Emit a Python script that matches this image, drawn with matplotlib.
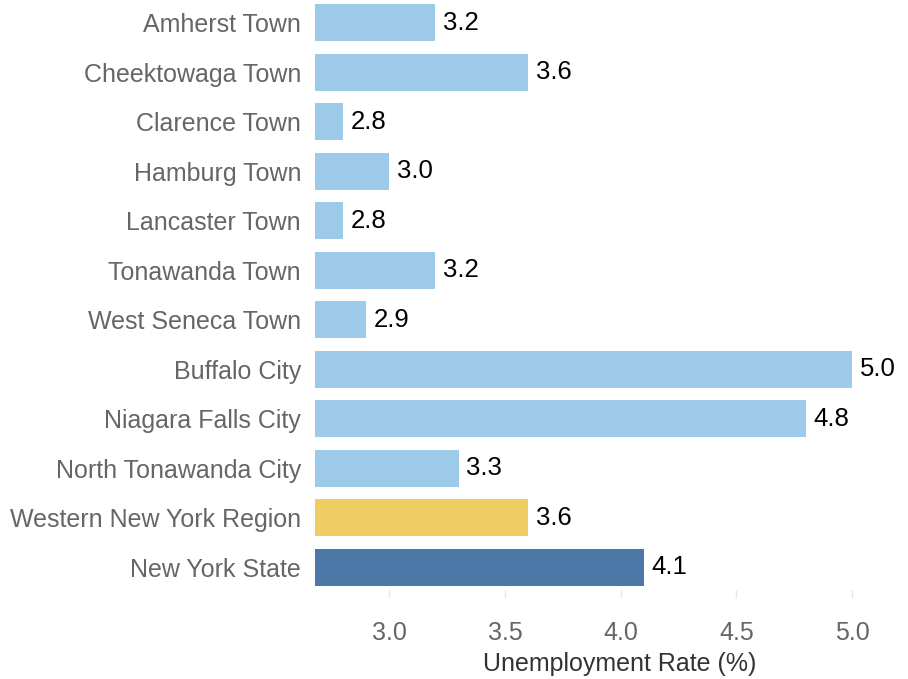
import matplotlib.pyplot as plt

plt.rcParams['font.family'] = ['Liberation Sans', 'DejaVu Sans']

places = ['Amherst Town', 'Cheektowaga Town', 'Clarence Town', 'Hamburg Town',
          'Lancaster Town', 'Tonawanda Town', 'West Seneca Town', 'Buffalo City',
          'Niagara Falls City', 'North Tonawanda City', 'Western New York Region',
          'New York State']
rates = [3.2, 3.6, 2.8, 3.0, 2.8, 3.2, 2.9, 5.0, 4.8, 3.3, 3.6, 4.1]
colors = ['#9ecae9'] * 10 + ['#f0cd63', '#4c78a8']
xticks = [3.0, 3.5, 4.0, 4.5, 5.0]

fig = plt.figure(figsize=(9.08, 6.79), dpi=100)
ax = fig.add_axes([315 / 908, 1 - 590 / 679, 565 / 908, 590 / 679])

y = list(range(len(places)))
ax.barh(y, rates, height=0.75, color=colors)
for yi, v in zip(y, rates):
    ax.text(v + 0.033, yi, f'{v:.1f}', va='center', ha='left', fontsize=18.5, color='black')

ax.set_xlim(2.68, 5.12)
ax.set_ylim(11.46, -0.46)
ax.set_yticks(y)
ax.set_yticklabels(places)
ax.set_xticks(xticks)
ax.set_xticklabels([f'{t:.1f}' for t in xticks])
ax.tick_params(axis='y', length=0, pad=10, labelsize=18, labelcolor='#666666')
ax.tick_params(axis='x', length=6, width=1, color='#e6e6e6', pad=16,
               labelsize=18, labelcolor='#666666', direction='out')
for s in ax.spines.values():
    s.set_visible(False)
ax.set_xlabel('Unemployment Rate (%)', fontsize=18, color='#333333', labelpad=5, x=0.54)

fig.savefig('out.png', dpi=100)
